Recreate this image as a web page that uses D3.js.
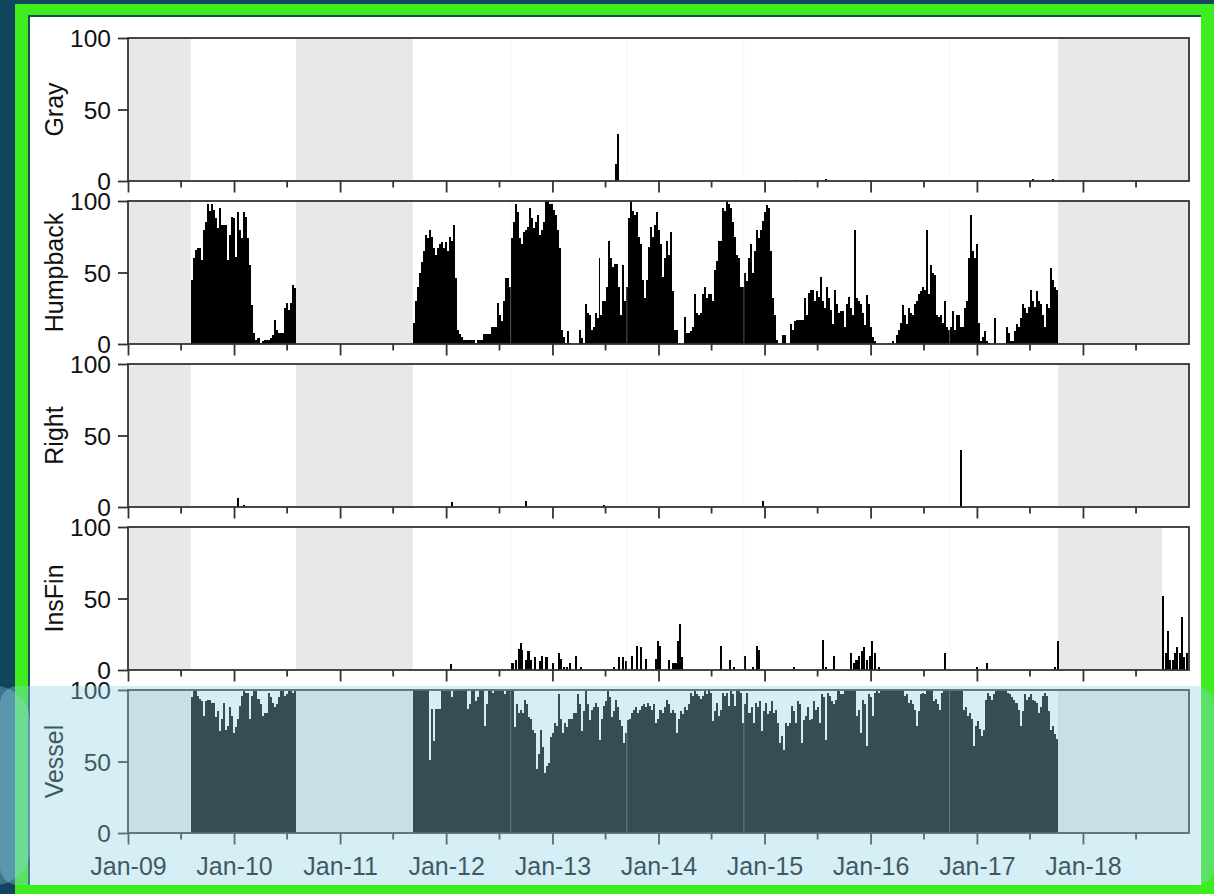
<!DOCTYPE html>
<html><head><meta charset="utf-8">
<script src="https://cdn.jsdelivr.net/npm/d3@7"></script>
<style>html,body{margin:0;padding:0;background:#12465d;overflow:hidden}</style>
</head><body>
<svg id="chart" width="1214" height="894"></svg>
<script>
// ---------------- DATA ----------------
const panelNames = ["Gray", "Humpback", "Right", "InsFin", "Vessel"];
const yTicks = [0, 50, 100];
const tickLabels = ["Jan-09","Jan-10","Jan-11","Jan-12","Jan-13","Jan-14","Jan-15","Jan-16","Jan-17","Jan-18"];
const majorTickDates = ["2009-01-01","2010-01-01","2011-01-01","2012-01-01","2013-01-01","2014-01-01","2015-01-01","2016-01-01","2017-01-01","2018-01-01"];
const minorTickDates = ["2009-07-01","2010-07-01","2011-07-01","2012-07-01","2013-07-01","2014-07-01","2015-07-01","2016-07-01","2017-07-01","2018-07-01"];
const timeDomain = ["2009-01-01", "2019-01-01"];

// recording deployments (weekly bars)
const seg1Start = "2009-08-05", seg1End = "2010-08-02";
const seg2Start = "2011-09-08", seg2End = "2017-10-07";
// periods without recordings (shaded)
const noDataStarts = ["2009-01-01", "2010-08-02", "2017-10-07"];
const noDataEnds = ["2009-08-05", "2011-09-08", "2019-01-01"];
const insFinNoDataEnds = ["2009-08-05", "2011-09-08", "2018-09-30"];
const deploymentBreaks = ["2012-08-10", "2013-09-14", "2014-10-22", "2016-09-29"];

// Humpback weekly % presence
const humpbackSeg1 = [45,60,66,67,67,59,80,85,98,93,98,94,88,81,95,83,83,83,59,76,89,88,61,92,80,74,92,89,74,55,27,8,3,4,1,2,3,3,3,4,6,17,10,8,8,8,25,29,24,29,41,39];
const humpbackSeg2 = [15,30,40,50,57,65,76,74,80,75,67,62,67,70,71,67,71,65,75,72,
  83,46,10,7,5,3,3,3,3,3,3,1,3,3,3,7,7,7,7,12,12,12,29,20,16,30,46,46,40,74,
  85,98,92,74,70,78,80,82,95,88,81,85,90,76,80,85,100,100,98,98,94,90,80,67,10,5,1,9,1,0,
  0,0,0,10,4,1,28,22,20,10,12,22,18,60,20,30,30,40,72,60,54,56,56,40,20,55,30,40,88,100,
  93,90,92,75,70,45,32,45,68,82,75,83,92,80,70,47,60,72,62,78,37,10,10,1,0,0,19,8,8,9,
  12,35,22,20,22,35,40,32,35,35,30,52,58,72,72,95,93,100,98,95,85,75,62,60,40,40,50,44,60,70,
  50,65,80,74,80,86,92,97,95,65,32,20,3,0,0,6,6,0,0,14,10,16,17,17,17,17,32,20,36,38,
  38,30,37,33,47,30,25,40,32,24,14,38,28,22,23,23,12,28,33,25,20,80,32,30,28,22,13,34,28,12,
  5,2,0,0,0,0,0,0,1,0,2,0,6,10,15,27,20,14,25,22,20,28,30,35,37,40,38,80,35,55,
  50,48,20,19,20,15,30,12,10,12,23,10,20,20,12,12,25,30,60,90,65,60,70,15,2,5,9,2,1,0,
  0,18,0,0,0,0,0,12,8,2,2,9,14,12,18,28,25,22,26,38,30,26,37,30,28,20,12,28,25,53,45,40,38];

// Vessel weekly % presence
const vesselSeg1 = [95,99,99,96,94,92,82,92,93,93,91,91,81,85,71,80,91,72,75,88,82,70,74,80,89,96,99,98,98,80,96,99,99,94,90,82,84,84,98,95,91,88,90,95,99,99,96,97,99,99,98,99];
const vesselSeg2 = [100,100,100,100,100,100,100,100,51,87,64,87,87,87,99,99,99,99,99,95,99,100,100,100,100,100,100,87,90,100,100,92,95,100,100,75,90,100,100,98,100,100,99,100,100,97,100,99,100,100,
  74,90,84,86,84,93,90,81,80,72,70,45,55,72,60,42,47,49,67,70,77,75,97,80,70,77,74,80,80,84,84,97,90,71,85,99,90,79,86,88,91,88,65,80,89,92,99,95,81,85,93,88,79,75,63,70,79,80,84,
  86,88,84,86,89,90,88,91,89,86,90,
  77,80,86,84,88,93,90,84,86,84,70,80,85,83,88,86,90,98,96,99,
  97,96,94,96,99,97,100,98,78,85,91,82,86,98,96,98,89,99,97,89,
  99,100,98,77,90,98,84,88,77,91,88,92,71,85,91,83,85,92,84,86,
  77,63,68,58,77,75,77,89,85,77,92,90,63,79,82,88,79,80,92,86,
  88,77,97,95,65,98,96,92,90,93,99,97,97,100,100,100,99,100,100,82,
  86,70,93,90,61,97,95,82,98,100,98,100,100,100,100,100,100,100,100,100,
  100,100,100,96,97,91,93,90,86,75,85,97,98,97,100,100,100,92,94,90,
  86,98,100,99,100,100,100,100,100,99,100,99,86,88,82,84,80,61,75,78,
  73,68,72,93,98,96,93,97,99,100,100,100,100,100,98,97,95,93,91,86,
  75,85,97,93,95,97,93,92,91,84,88,96,98,96,85,72,75,69,66];

// Sparse weekly detections (week start, % presence)
const grayDates = ["2013-08-05","2013-08-12","2015-04-14","2015-07-27","2017-07-09","2017-09-16"];
const grayValues = [12, 33, 1, 1.5, 1.5, 1.5];

const rightDates = ["2010-01-12","2010-01-31","2012-01-17","2012-09-28","2013-06-23","2014-12-24","2016-11-03"];
const rightValues = [6, 1.5, 3.5, 4, 1.5, 4, 40];

const insFinDates = ["2012-01-14","2012-08-13","2012-08-25","2012-09-03","2012-09-11","2012-09-16","2012-09-27","2012-10-07","2012-10-14","2012-10-28",
  "2012-11-15","2012-11-24","2012-12-08","2012-12-31","2013-01-19","2013-01-27","2013-02-06","2013-02-17","2013-02-28","2013-03-20",
  "2013-04-05","2013-07-27","2013-08-15","2013-08-29","2013-09-06","2013-09-29","2013-10-17","2013-10-29","2013-11-15","2013-12-20",
  "2013-12-28","2014-01-04","2014-02-03","2014-02-16","2014-02-25","2014-03-05","2014-03-12","2014-03-18","2014-07-31","2014-09-01",
  "2014-09-13","2014-10-22","2014-11-19","2014-12-04","2014-12-11","2015-04-09","2015-07-17","2015-07-27","2015-08-23","2015-10-22",
  "2015-11-01","2015-11-10","2015-11-18","2015-11-28","2015-12-07","2015-12-15","2015-12-25","2016-01-02","2016-01-12","2016-01-27",
  "2016-09-10","2016-12-30","2017-01-31","2017-09-22","2017-10-02","2018-10-01","2018-10-09","2018-10-17","2018-10-25","2018-11-02",
  "2018-11-10","2018-11-18","2018-11-26","2018-12-04","2018-12-12","2018-12-20"];
const insFinValues = [4,5,7,15,19,14,7,13,7,9,
  6,10,9,5,12,8,2,2,5,10,
  2,2,9,9,6,10,17,16,8,8,
  20,17,7,5,5,20,32,9,17,7,
  2,10,2,17,14,2,21,2,10,12,
  5,7,10,13,16,7,10,20,12,2,
  12,2,5,2,20,52,12,27,7,7,
  12,16,12,37,9,12];

// ---------------- DRAW ----------------
const W = 1214, H = 894;
const parse = d3.utcParse("%Y-%m-%d");
const svg = d3.select("#chart");
const FONT = "'Liberation Sans', Arial, Helvetica, sans-serif";

// frame / background decoration
svg.append("rect").attr("x",0).attr("y",0).attr("width",W).attr("height",H).attr("fill","#12465d");
svg.append("rect").attr("x",15).attr("y",4).attr("width",W-15).attr("height",H-4).attr("fill","#3ded1e");
svg.append("rect").attr("x",28).attr("y",15).attr("width",1173).attr("height",870).attr("fill","#1a4f5a");
svg.append("rect").attr("x",30).attr("y",17).attr("width",1171).attr("height",868).attr("fill","#ffffff");

const plotLeft = 128, plotRight = 1189;
const xs = d3.scaleUtc().domain(timeDomain.map(parse)).range([plotLeft, plotRight]);
const panelTop0 = 38, panelH = 143, panelGap = 163;

function segmentBars(values, start, end) {
  const t0 = +parse(start), t1 = +parse(end), step = (t1 - t0) / values.length;
  return values.map((v, i) => ({d0: new Date(t0 + i * step), d1: new Date(t0 + (i + 1) * step), v}));
}
function sparseBars(dates, values) {
  return dates.map((d, i) => { const d0 = parse(d); return {d0, d1: d3.utcDay.offset(d0, 7), v: values[i]}; });
}

const seriesBars = [
  sparseBars(grayDates, grayValues),
  segmentBars(humpbackSeg1, seg1Start, seg1End).concat(segmentBars(humpbackSeg2, seg2Start, seg2End)),
  sparseBars(rightDates, rightValues),
  sparseBars(insFinDates, insFinValues),
  segmentBars(vesselSeg1, seg1Start, seg1End).concat(segmentBars(vesselSeg2, seg2Start, seg2End))
];

panelNames.forEach((name, p) => {
  const top = panelTop0 + p * panelGap, bottom = top + panelH;
  const ys = d3.scaleLinear().domain([0, 100]).range([bottom, top]);
  const g = svg.append("g");

  // shaded no-data periods
  const ends = name === "InsFin" ? insFinNoDataEnds : noDataEnds;
  g.selectAll("rect.nodata").data(noDataStarts.map((s, i) => [parse(s), parse(ends[i])]))
    .join("rect").attr("class", "nodata")
    .attr("x", d => xs(d[0])).attr("width", d => xs(d[1]) - xs(d[0]))
    .attr("y", top).attr("height", panelH).attr("fill", "#e8e8e8");

  // bars (pixel-snapped so adjacent weeks join without seams)
  g.selectAll("rect.bar").data(seriesBars[p].filter(d => d.v > 0))
    .join("rect").attr("class", "bar")
    .attr("x", d => Math.round(xs(d.d0)))
    .attr("width", d => Math.max(Math.round(xs(d.d1)) - Math.round(xs(d.d0)), 1))
    .attr("y", d => Math.round(ys(d.v)))
    .attr("height", d => Math.max(bottom - Math.round(ys(d.v)), 1))
    .attr("shape-rendering", "crispEdges")
    .attr("fill", "#000");

  // deployment break lines
  g.selectAll("line.brk").data(deploymentBreaks.map(parse))
    .join("line").attr("class", "brk")
    .attr("x1", d => xs(d)).attr("x2", d => xs(d))
    .attr("y1", top).attr("y2", bottom)
    .attr("stroke", "#e8e8e8").attr("stroke-width", 1).attr("opacity", 0.35);

  // y axis
  const yAxis = g.append("g").attr("transform", `translate(${plotLeft},0)`)
    .call(d3.axisLeft(ys).tickValues(yTicks).tickSize(10).tickPadding(7));
  yAxis.select(".domain").remove();
  yAxis.selectAll("line").attr("stroke", "#333").attr("stroke-width", 1.8);
  yAxis.selectAll("text").attr("font-family", FONT).attr("font-size", 24.5).attr("fill", "#111").attr("dy", "0.36em");

  // x axis ticks
  const xMajor = g.append("g").attr("transform", `translate(0,${bottom})`)
    .call(d3.axisBottom(xs).tickValues(majorTickDates.map(parse)).tickSize(11.5)
      .tickFormat((d, i) => p === panelNames.length - 1 ? tickLabels[i] : ""));
  xMajor.select(".domain").remove();
  xMajor.selectAll("line").attr("stroke", "#333").attr("stroke-width", 1.8);
  xMajor.selectAll("text").attr("font-family", FONT).attr("font-size", 25).attr("fill", "#111").attr("dy", "1.08em");
  const xMinor = g.append("g").attr("transform", `translate(0,${bottom})`)
    .call(d3.axisBottom(xs).tickValues(minorTickDates.map(parse)).tickSize(6.5).tickFormat(""));
  xMinor.select(".domain").remove();
  xMinor.selectAll("line").attr("stroke", "#333").attr("stroke-width", 1.8);

  // panel box
  g.append("rect").attr("x", plotLeft).attr("y", top).attr("width", plotRight - plotLeft).attr("height", panelH)
    .attr("fill", "none").attr("stroke", "#333").attr("stroke-width", 1.8);

  // panel title
  g.append("text").attr("transform", `translate(63,${top + panelH / 2}) rotate(-90)`)
    .attr("text-anchor", "middle").attr("font-family", FONT).attr("font-size", 25).attr("fill", "#111")
    .text(name);
});

// translucent highlight over the bottom panel
svg.append("rect").attr("x", 0).attr("y", 686).attr("width", W).attr("height", 199).attr("rx", 18)
  .attr("fill", "rgb(144,209,228)").attr("opacity", 0.37);
svg.append("rect").attr("x", -40).attr("y", 686).attr("width", 70).attr("height", 199).attr("rx", 35)
  .attr("fill", "rgb(144,209,228)").attr("opacity", 0.35);
</script>
</body></html>
